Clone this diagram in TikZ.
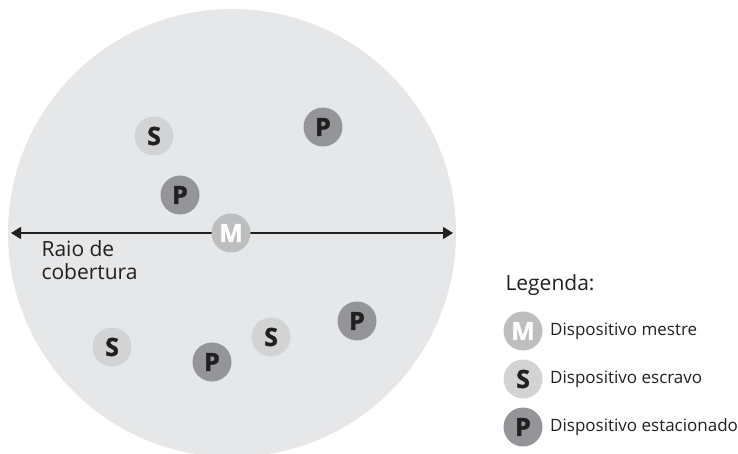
\documentclass[tikz,border=0pt]{standalone}
\usepackage{fontspec}
\setmainfont{Open Sans}
\newfontfamily\heavy{Open Sans}[BoldFeatures={FakeBold=1.5}]
\usetikzlibrary{arrows.meta,positioning}
\definecolor{Ink}{HTML}{231F20}
\definecolor{Range}{HTML}{E6E7E8}
\definecolor{Master}{HTML}{BCBEC0}
\definecolor{Slave}{HTML}{D1D3D4}
\definecolor{Parked}{HTML}{939598}
\tikzset{
  dev/.style={circle,minimum size=39pt,inner sep=0pt,font=\fontsize{25}{25}\selectfont\heavy\bfseries,text=Ink},
  mst/.style={dev,fill=Master,text=white},
  esc/.style={dev,fill=Slave},
  est/.style={dev,fill=Parked},
  legtext/.style={right=4pt of #1,font=\fontsize{17}{20}\selectfont,text=Ink},
  span/.style={{Triangle[length=10pt,width=12pt]}-{Triangle[length=10pt,width=12pt]},draw=Ink,line width=1.3pt},
}
\begin{document}
\begin{tikzpicture}[x=1pt,y=-1pt]
  \useasboundingbox (0,0) rectangle (738,454);
  % coverage area
  \fill[Range] (232,233) circle (224);
  \coordinate (west) at (11,233);
  \coordinate (east) at (453,233);
  \draw[span] (west) -- (east);
  \node[anchor=base west,align=left,font=\fontsize{21}{23}\selectfont,text=Ink] (raio) at (38,279) {Raio de\\cobertura};
  % devices
  \node[mst] (m) at (231,233) {M};
  \foreach \n/\x/\y in {1/154/136,2/112/347,3/271/337}
    \node[esc] (s\n) at (\x,\y) {S};
  \foreach \n/\x/\y in {1/323/127,2/180/195,3/212/362,4/357/321}
    \node[est] (p\n) at (\x,\y) {P};
  % legend
  \node[anchor=base west,font=\fontsize{21}{23}\selectfont,text=Ink] (leg) at (502,290) {Legenda:};
  \node[mst] (legM) at (523,331) {M};
  \node[esc] (legS) at (523,379) {S};
  \node[est] (legP) at (523,427) {P};
  \node[legtext=legM] (txtM) {Dispositivo mestre};
  \node[legtext=legS] (txtS) {Dispositivo escravo};
  \node[legtext=legP] (txtP) {Dispositivo estacionado};
\end{tikzpicture}
\end{document}
